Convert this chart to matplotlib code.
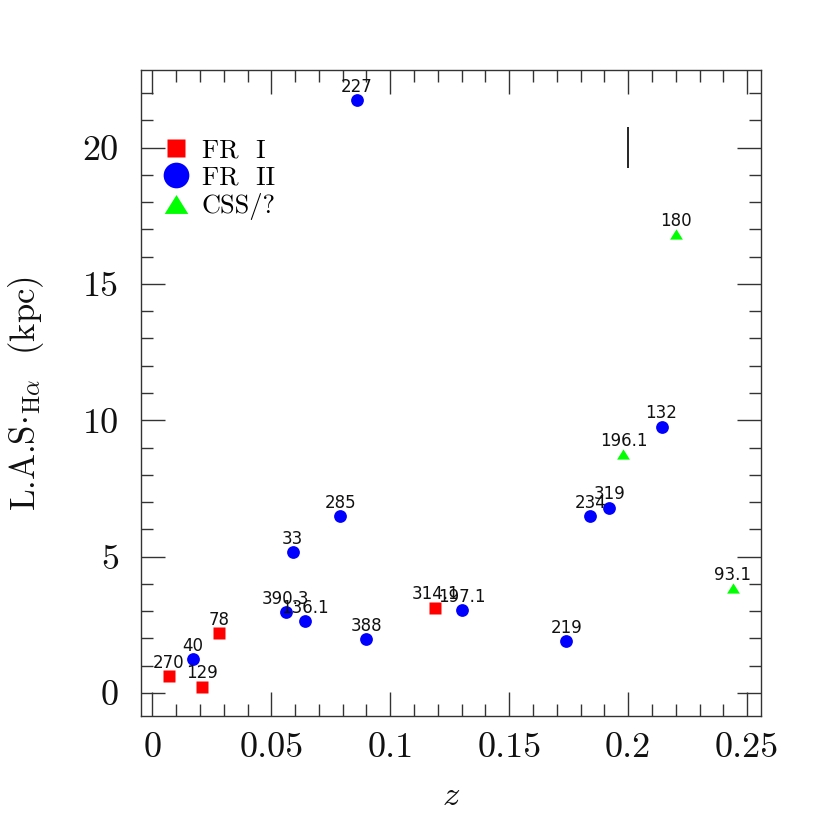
import matplotlib
matplotlib.use("Agg")
import matplotlib.pyplot as plt
from matplotlib.lines import Line2D
from matplotlib.path import Path
from matplotlib.ticker import MultipleLocator, FuncFormatter

# ---- data ----
fr1_names = ['270', '129', '78', '314.1']
fr1_z = [0.007, 0.021, 0.028, 0.119]
fr1_las = [0.61, 0.23, 2.20, 3.12]

fr2_names = ['40', '390.3', '136.1', '388', '197.1', '33', '285', '227',
             '219', '234', '319', '132']
fr2_z = [0.017, 0.056, 0.064, 0.090, 0.130, 0.059, 0.079, 0.086,
         0.174, 0.184, 0.192, 0.214]
fr2_las = [1.24, 2.95, 2.63, 1.96, 3.03, 5.16, 6.48, 21.75,
           1.90, 6.47, 6.79, 9.76]

css_names = ['196.1', '93.1', '180']
css_z = [0.198, 0.244, 0.220]
css_las = [8.76, 3.83, 16.83]

err_z = [0.2]
err_las = [20.0]
err_size = [0.75]

legend_labels = ['FR  I', 'FR  II', 'CSS/?']
x_ticks = [0, 0.05, 0.1, 0.15, 0.2, 0.25]
y_ticks = [0, 5, 10, 15, 20]

# ---- style ----
plt.rcParams['mathtext.fontset'] = 'cm'
SERIF = 'cmr10'
tri = Path([(-1, -0.8), (1, -0.8), (0, 0.8), (-1, -0.8)],
           [Path.MOVETO, Path.LINETO, Path.LINETO, Path.CLOSEPOLY])

fig = plt.figure(figsize=(8.3, 8.3), dpi=100)
ax = fig.add_axes([0.1699, 0.1373, 0.7470, 0.7784])

ax.plot(fr1_z, fr1_las, linestyle='none', marker='s', ms=8,
        color='#ff0000', mec='none', zorder=3)
ax.plot(fr2_z, fr2_las, linestyle='none', marker='o', ms=9.2,
        color='#0000ff', mec='none', zorder=3)
ax.plot(css_z, css_las, linestyle='none', marker=tri, ms=9.2,
        color='#00ff00', mec='none', zorder=3)
ax.errorbar(err_z, err_las, yerr=err_size, fmt='none', ecolor='black',
            elinewidth=1.2, capsize=0)

for names, zs, ls in [(fr1_names, fr1_z, fr1_las),
                      (fr2_names, fr2_z, fr2_las),
                      (css_names, css_z, css_las)]:
    for n, z, l in zip(names, zs, ls):
        ax.annotate(n, (z, l), xytext=(0, 6), textcoords='offset points',
                    ha='center', va='baseline', fontsize=12,
                    family='DejaVu Sans', color='#111111', zorder=4)

ax.set_xlim(-0.00475, 0.2558)
ax.set_ylim(-0.85, 22.85)

ax.xaxis.set_major_locator(MultipleLocator(0.05))
ax.xaxis.set_minor_locator(MultipleLocator(0.01))
ax.yaxis.set_major_locator(MultipleLocator(5))
ax.yaxis.set_minor_locator(MultipleLocator(1))
ax.set_xticks(x_ticks)
ax.set_yticks(y_ticks)
ax.xaxis.set_major_formatter(FuncFormatter(lambda v, p: '%g' % v))
ax.yaxis.set_major_formatter(FuncFormatter(lambda v, p: '%g' % v))

ax.tick_params(which='both', direction='in', top=True, right=True,
               color='#333333', width=1.0)
ax.tick_params(which='major', length=17)
ax.tick_params(which='minor', length=8.6)
ax.tick_params(axis='x', which='major', pad=12)
ax.tick_params(axis='y', which='major', pad=16)
for lab in ax.get_xticklabels() + ax.get_yticklabels():
    lab.set_fontfamily(SERIF)
    lab.set_fontsize(26)
    lab.set_color('#111111')
for sp in ax.spines.values():
    sp.set_color('#333333')
    sp.set_linewidth(1.0)

ax.set_xlabel(r'$z$', fontsize=25, labelpad=10, color='#111111')
ax.set_ylabel(r'L.A.S$\cdot_{\mathrm{H}\alpha}$  (kpc)', fontsize=25,
              family=SERIF, labelpad=26, color='#111111')

handles = [
    Line2D([], [], linestyle='none', marker='s', ms=13.5, color='#ff0000', mec='none'),
    Line2D([], [], linestyle='none', marker='o', ms=18.5, color='#0000ff', mec='none'),
    Line2D([], [], linestyle='none', marker=tri, ms=17, color='#00ff00', mec='none'),
]
ax.legend(handles, legend_labels, loc='upper left', bbox_to_anchor=(0.035, 0.894),
          frameon=False, borderpad=0, borderaxespad=0, handlelength=1.0,
          handletextpad=0.47, labelspacing=0.14,
          prop={'family': SERIF, 'size': 19})

fig.savefig('out.png', dpi=100)
